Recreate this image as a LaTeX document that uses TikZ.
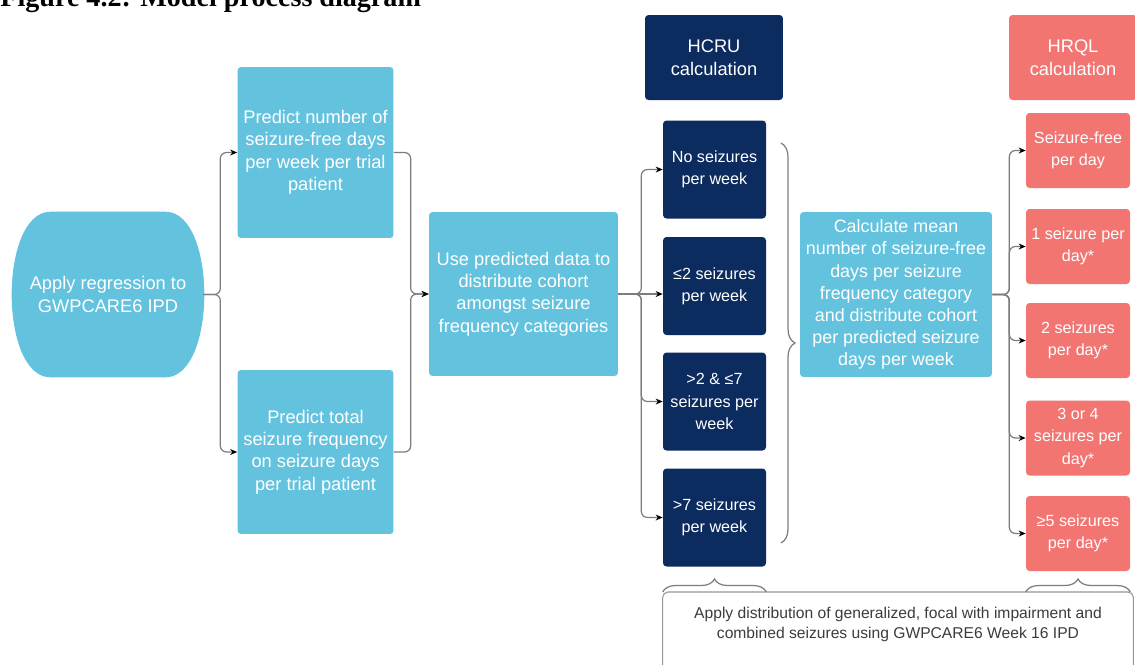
\documentclass[tikz,border=0pt]{standalone}
\usepackage{fontspec}
\setmainfont{Liberation Serif}
\newfontfamily\boxfont{Liberation Sans}
\usetikzlibrary{arrows.meta, calc, decorations.pathreplacing, backgrounds}

\definecolor{lblue}{RGB}{99,194,222}
\definecolor{navy}{RGB}{12,43,94}
\definecolor{salmon}{RGB}{243,117,114}
\definecolor{linegray}{RGB}{125,125,125}
\definecolor{notegray}{RGB}{60,60,60}

\tikzset{
  box/.style={rectangle, rounded corners=2pt, align=center, text=white, inner sep=1pt,
    font=\boxfont\fontsize{10.4}{12.8}\selectfont},
  lbox/.style={box, fill=lblue},
  dbox/.style={box, fill=navy, minimum width=2.06cm, minimum height=1.96cm,
    font=\boxfont\fontsize{9.2}{12.6}\selectfont},
  sbox/.style={box, fill=salmon, minimum width=2.08cm, minimum height=1.5cm,
    font=\boxfont\fontsize{9.2}{12.6}\selectfont},
  link/.style={draw=linegray, line width=0.7pt, rounded corners=3.5pt,
    -{Stealth[length=4pt,width=3.4pt,color=black]}},
  curly/.style={draw=linegray, line width=0.7pt, decorate, decoration={brace, amplitude=#1}},
}

\begin{document}
\begin{tikzpicture}[x=0.02cm, y=-0.02cm]
\useasboundingbox (0,0) rectangle (1135,664);
\clip (0,0) rectangle (1135,664);

% caption, its top runs off the page
\node[anchor=base west, inner sep=0pt, font=\bfseries\fontsize{16}{18}\selectfont] (caption) at (0,6) {Figure 4.2: Model process diagram};

% regression step (shape filled below)
\node[box, minimum width=3.8cm, minimum height=3.3cm] (apply) at (108,294.5) {Apply regression to\\GWPCARE6 IPD};

% predictions
\node[lbox, minimum width=3.12cm, minimum height=3.42cm] (pnum) at (315.5,152.5) {Predict number of\\seizure-free days\\per week per trial\\patient};
\node[lbox, minimum width=3.12cm, minimum height=3.28cm] (ptot) at (315.5,452) {Predict total\\seizure frequency\\on seizure days\\per trial patient};
\node[lbox, minimum width=3.78cm, minimum height=3.28cm] (use) at (523.5,294) {Use predicted data to\\distribute cohort\\amongst seizure\\frequency categories};

% HCRU column
\node[box, fill=navy, minimum width=2.76cm, minimum height=1.7cm] (hcru) at (714,57.5) {HCRU\\calculation};
\node[dbox] (nosz) at (714.5,169.5) {No seizures\\per week};
\node[dbox] (lte2) at (714.5,286) {≤2 seizures\\per week};
\node[dbox] (gt2) at (714.5,401.5) {>2 \& ≤7\\seizures per\\week};
\node[dbox] (gt7) at (714.5,517.5) {>7 seizures\\per week};

\node[lbox, minimum width=3.84cm, minimum height=3.3cm, font=\boxfont\fontsize{10.2}{12.6}\selectfont] (mean) at (896,294.5) {Calculate mean\\number of seizure-free\\days per seizure\\frequency category\\and distribute cohort\\per predicted seizure\\days per week};

% HRQL column
\node[box, fill=salmon, minimum width=2.56cm, minimum height=1.7cm] (hrql) at (1073,57.5) {HRQL\\calculation};
\node[sbox] (sfree) at (1078,150.5) {Seizure-free\\per day};
\node[sbox] (one) at (1078,246.5) {1 seizure per\\day*};
\node[sbox] (two) at (1078,340.5) {2 seizures\\per day*};
\node[sbox] (three) at (1078,438) {3 or 4\\seizures per\\day*};
\node[sbox] (five) at (1078,533.5) {≥5 seizures\\per day*};

% seizure type note
\node[anchor=north, minimum width=9.4cm, inner ysep=0.3cm, align=center, text=notegray,
  font=\boxfont\fontsize{8.9}{11.4}\selectfont] (note) at (898,592)
  {Apply distribution of generalized, focal with impairment and\\combined seizures using GWPCARE6 Week 16 IPD};
\draw[draw=linegray!80, line width=0.6pt, rounded corners=3pt] ([yshift=-1cm]note.south west) -- (note.north west)
  -- (note.north east) -- ([yshift=-1cm]note.south east);

\begin{scope}[on background layer]
\fill[white] (0,0) rectangle (1135,664);
\fill[lblue] ([xshift=0.76cm]apply.north west) -- ([xshift=-0.76cm]apply.north east)
  .. controls ([xshift=0.28cm]apply.north east) and ([xshift=0.28cm]apply.south east) .. ([xshift=-0.76cm]apply.south east)
  -- ([xshift=0.76cm]apply.south west)
  .. controls ([xshift=-0.28cm]apply.south west) and ([xshift=-0.28cm]apply.north west) .. cycle;
\end{scope}

% connectors
\foreach \t in {pnum,ptot}
  \draw[link] (apply.east) -- ++(17,0) |- (\t.west);
\foreach \s in {pnum,ptot}
  \draw[link] (\s.east) -| ($(use.west)+(-18,0)$) -- (use.west);
\foreach \t in {nosz,gt2,gt7}
  \draw[link] (use.east) -- ++(23,0) |- (\t.west);
\draw[link] (use.east) -- (use.east -| lte2.west);
\foreach \t in {sfree,one,two,three,five}
  \draw[link] (mean.east) -- ++(17,0) |- (\t.west);

% braces
\coordinate (colTop) at (781,143);
\coordinate (colBot) at (781,543);
\draw[curly=0.28cm] (colTop) -- (colBot);
\draw[curly=0.26cm] (gt7.west |- note.north) -- (gt7.east |- note.north);
\draw[curly=0.26cm] (five.west |- note.north) -- (five.east |- note.north);
\end{tikzpicture}
\end{document}
